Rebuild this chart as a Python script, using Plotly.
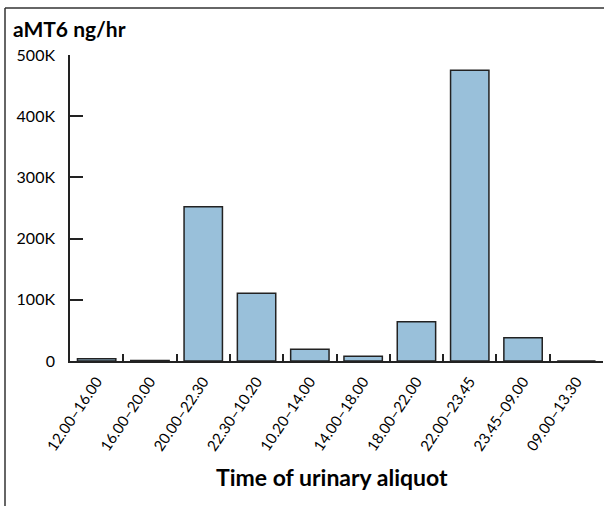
import plotly.graph_objects as go

categories = ["12.00–16.00", "16.00–20.00", "20.00–22.30", "22.30–10.20", "10.20–14.00",
              "14.00–18.00", "18.00–22.00", "22.00–23.45", "23.45–09.00", "09.00–13.30"]
values = [3800, 1000, 252000, 110500, 19000, 7700, 64000, 475000, 38000, 0]
y_tickvals = [0, 100000, 200000, 300000, 400000, 500000]
y_ticktext = ["0", "100K", "200K", "300K", "400K", "500K"]

FONT = "Lato"

fig = go.Figure(go.Bar(
    x=categories, y=values,
    marker=dict(color="#99C0DA", line=dict(color="#222222", width=1.5)),
))

fig.update_layout(
    width=604, height=506,
    margin=dict(l=70, r=1, t=55, b=145),
    paper_bgcolor="white", plot_bgcolor="white",
    bargap=0.28,
    showlegend=False,
    font=dict(family=FONT, color="black", size=14),
    xaxis=dict(
        type="category", tickson="boundaries", ticks="inside", ticklen=7,
        tickwidth=1.5, tickcolor="#222", showline=True, linecolor="#222",
        linewidth=1.5, tickangle=-56, showgrid=False, zeroline=False,
        tickfont=dict(family=FONT, size=15), fixedrange=True, automargin=False,
        ticklabelstandoff=4,
    ),
    yaxis=dict(
        range=[0, 500000], tickvals=y_tickvals, ticktext=y_ticktext,
        ticks="inside", ticklen=13, tickwidth=1.5, tickcolor="#222",
        showline=True, linecolor="#222", linewidth=1.5, showgrid=False,
        zeroline=False, tickfont=dict(family=FONT, size=16),
        ticklabelstandoff=10, automargin=False, fixedrange=True,
    ),
    annotations=[
        dict(text="<b>aMT6 ng/hr</b>", xref="paper", yref="paper",
             x=(11 - 70) / 533, y=(361 - 28) / 306, xanchor="left", yanchor="middle",
             showarrow=False, font=dict(family=FONT, size=21)),
        dict(text="<b>Time of urinary aliquot</b>", xref="paper", yref="paper",
             x=(332 - 70) / 533, y=(361 - 477) / 306, xanchor="center", yanchor="middle",
             showarrow=False, font=dict(family=FONT, size=23)),
    ],
    shapes=[
        dict(type="line", xref="paper", yref="paper",
             x0=(5 - 70) / 533, x1=(5 - 70) / 533, y0=(361 - 8) / 306, y1=(361 - 510) / 306,
             line=dict(color="#333", width=1.5)),
        dict(type="line", xref="paper", yref="paper",
             x0=(5 - 70) / 533, x1=(610 - 70) / 533, y0=(361 - 8) / 306, y1=(361 - 8) / 306,
             line=dict(color="#333", width=1.5)),
    ],
)

fig.write_html("out.html", config={"displayModeBar": False},
               post_script="document.body.style.margin='0';")
